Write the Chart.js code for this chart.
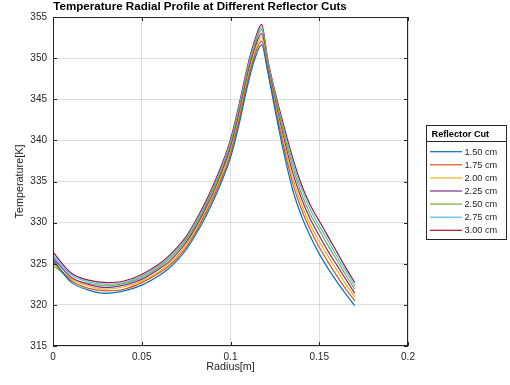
<!DOCTYPE html>
<html>
<head>
<meta charset="utf-8">
<script src="https://cdn.jsdelivr.net/npm/chart.js@4/dist/chart.umd.min.js"></script>
<style>
  html, body { margin: 0; padding: 0; background: #fff; }
  canvas { display: block; }
</style>
</head>
<body>
<canvas id="chart" width="510" height="385"></canvas>
<script>
// radius points [m]
const radius = [0, 0.01, 0.02, 0.03, 0.04, 0.05, 0.06, 0.065, 0.07, 0.075, 0.08, 0.085, 0.09, 0.095, 0.1,
  0.105, 0.11, 0.114, 0.1175, 0.121, 0.125, 0.13, 0.135, 0.14, 0.145, 0.15, 0.155, 0.16, 0.165, 0.17];

// temperature [K] for each reflector cut
const t150 = [325.5, 322.8, 321.8, 321.4, 321.7, 322.4, 323.6, 324.4, 325.4, 326.7, 328.4, 330.3, 332.5, 335.0, 337.9,
  342.1, 347.0, 350.1, 351.6, 348.3, 343.8, 338.5, 334.0, 330.8, 328.3, 326.2, 324.4, 322.8, 321.3, 319.9];
const t175 = [325.3, 323.0, 322.0, 321.7, 321.9, 322.7, 323.9, 324.7, 325.7, 327.0, 328.7, 330.7, 332.9, 335.4, 338.3,
  342.6, 347.5, 350.6, 352.1, 348.6, 344.2, 339.2, 334.8, 331.6, 329.1, 327.0, 325.2, 323.5, 321.9, 320.5];
const t200 = [325.1, 323.2, 322.3, 321.9, 322.2, 322.9, 324.1, 325.0, 326.0, 327.3, 329.0, 331.0, 333.2, 335.8, 338.7,
  343.0, 347.9, 351.0, 352.6, 348.9, 344.6, 339.8, 335.5, 332.2, 329.7, 327.7, 325.9, 324.2, 322.5, 321.0];
const t225 = [325.7, 323.4, 322.5, 322.1, 322.4, 323.1, 324.4, 325.2, 326.3, 327.6, 329.3, 331.3, 333.5, 336.1, 339.1,
  343.4, 348.3, 351.4, 353.0, 349.1, 345.0, 340.3, 336.1, 332.9, 330.4, 328.4, 326.5, 324.8, 323.1, 321.4];
const t250 = [324.8, 323.2, 322.6, 322.3, 322.6, 323.3, 324.6, 325.5, 326.6, 327.9, 329.6, 331.6, 333.9, 336.4, 339.5,
  343.8, 348.7, 351.8, 353.5, 349.4, 345.4, 340.9, 336.8, 333.5, 331.0, 329.1, 327.2, 325.4, 323.6, 321.9];
const t275 = [326.0, 323.7, 322.8, 322.5, 322.7, 323.5, 324.8, 325.7, 326.8, 328.1, 329.9, 331.8, 334.1, 336.7, 339.8,
  344.2, 349.1, 352.1, 353.8, 349.6, 345.7, 341.3, 337.4, 334.1, 331.6, 329.6, 327.8, 325.9, 324.1, 322.3];
const t300 = [326.4, 323.9, 323.0, 322.7, 322.9, 323.7, 325.0, 325.9, 327.0, 328.3, 330.1, 332.1, 334.4, 337.0, 340.1,
  344.5, 349.4, 352.4, 354.1, 349.8, 346.0, 341.8, 337.9, 334.6, 332.1, 330.2, 328.3, 326.4, 324.5, 322.7];

const cutLabels = ['1.50 cm', '1.75 cm', '2.00 cm', '2.25 cm', '2.50 cm', '2.75 cm', '3.00 cm'];
const xTickLabels = ['0', '0.05', '0.1', '0.15', '0.2'];
const yTickLabels = ['315', '320', '325', '330', '335', '340', '345', '350', '355'];

const series = [t150, t175, t200, t225, t250, t275, t300];
const colors = ['#0072BD', '#D95319', '#EDB120', '#7E2F8E', '#77AC30', '#4DBEEE', '#A2142F'];
const FONT = 'Liberation Sans, Arial, Helvetica, sans-serif';

let datasets = series.map(function(vals, i) {
    return {
        label: cutLabels[i],
        data: radius.map((r, j) => ({ x: r, y: vals[j] })),
        borderColor: colors[i],
        backgroundColor: colors[i],
        borderWidth: 1.2,
        pointRadius: 0,
        cubicInterpolationMode: 'monotone',
        fill: false
    };
});

// box around the axes, inward ticks, title and the legend box
let decorations = {
    id: 'decorations',
    afterDraw(chart) {
        const ctx = chart.ctx;
        const a = chart.chartArea;
        const xs = chart.scales.x, ys = chart.scales.y;
        ctx.save();

        ctx.strokeStyle = '#262626';
        ctx.lineWidth = 1;
        ctx.strokeRect(Math.round(a.left) + 0.5, Math.round(a.top) + 0.5,
            Math.round(a.width) - 1, Math.round(a.height) - 1);

        ctx.beginPath();
        xs.ticks.forEach(t => {
            const px = Math.round(xs.getPixelForValue(t.value)) + 0.5;
            ctx.moveTo(px, a.bottom); ctx.lineTo(px, a.bottom - 4);
            ctx.moveTo(px, a.top); ctx.lineTo(px, a.top + 4);
        });
        ys.ticks.forEach(t => {
            const py = Math.round(ys.getPixelForValue(t.value)) + 0.5;
            ctx.moveTo(a.left, py); ctx.lineTo(a.left + 4, py);
            ctx.moveTo(a.right, py); ctx.lineTo(a.right - 4, py);
        });
        ctx.stroke();

        // title
        ctx.fillStyle = '#000';
        ctx.font = 'bold 11.6px ' + FONT;
        ctx.textAlign = 'center';
        ctx.textBaseline = 'middle';
        ctx.fillText('Temperature Radial Profile at Different Reflector Cuts', 200, 7);

        // legend
        const lx = 426.5, ly = 125.5, lw = 80, lh = 114;
        ctx.fillStyle = '#fff';
        ctx.fillRect(lx, ly, lw, lh);
        ctx.strokeStyle = '#262626';
        ctx.strokeRect(lx, ly, lw, lh);
        ctx.beginPath();
        ctx.moveTo(lx, 141.5); ctx.lineTo(lx + lw, 141.5);
        ctx.stroke();

        ctx.fillStyle = '#000';
        ctx.textAlign = 'left';
        ctx.font = 'bold 9.2px ' + FONT;
        ctx.fillText('Reflector Cut', 431.5, 134);

        ctx.font = '9.2px ' + FONT;
        chart.data.datasets.forEach((ds, i) => {
            const yy = 151.7 + i * 13.1;
            ctx.strokeStyle = ds.borderColor;
            ctx.lineWidth = 1.2;
            ctx.beginPath();
            ctx.moveTo(430, yy); ctx.lineTo(462, yy);
            ctx.stroke();
            ctx.fillStyle = '#262626';
            ctx.fillText(ds.label, 464.5, yy + 0.5);
        });
        ctx.restore();
    }
};

new Chart(document.getElementById('chart'), {
    type: 'line',
    data: { datasets: datasets },
    options: {
        responsive: false,
        animation: false,
        devicePixelRatio: 1,
        layout: { padding: { top: 17, right: 102, bottom: 0, left: 0 } },
        plugins: {
            legend: { display: false },
            title: { display: false },
            tooltip: { enabled: false }
        },
        scales: {
            x: {
                type: 'linear',
                min: 0,
                max: 0.2,
                afterFit: function(scale) { scale.height = 39; },
                afterBuildTicks: function(scale) {
                    scale.ticks = xTickLabels.map(v => ({ value: parseFloat(v) }));
                },
                ticks: {
                    padding: 5,
                    color: '#262626',
                    font: { family: FONT, size: 10 },
                    maxRotation: 0,
                    callback: (v, i) => xTickLabels[i]
                },
                grid: { color: 'rgba(38,38,38,0.15)', drawTicks: false },
                border: { display: false },
                title: {
                    display: true,
                    text: 'Radius[m]',
                    color: '#262626',
                    font: { family: FONT, size: 10.8 },
                    padding: { top: 0, bottom: 11 }
                }
            },
            y: {
                min: 315,
                max: 355,
                afterFit: function(scale) { scale.width = 53; },
                afterBuildTicks: function(scale) {
                    scale.ticks = yTickLabels.map(v => ({ value: parseFloat(v) }));
                },
                ticks: {
                    padding: 6,
                    color: '#262626',
                    font: { family: FONT, size: 10 },
                    callback: (v, i) => yTickLabels[i]
                },
                grid: { color: 'rgba(38,38,38,0.15)', drawTicks: false },
                border: { display: false },
                title: {
                    display: true,
                    text: 'Temperature[K]',
                    color: '#262626',
                    font: { family: FONT, size: 10.8 },
                    padding: { top: 14, bottom: 0 }
                }
            }
        }
    },
    plugins: [decorations]
});
</script>
</body>
</html>
